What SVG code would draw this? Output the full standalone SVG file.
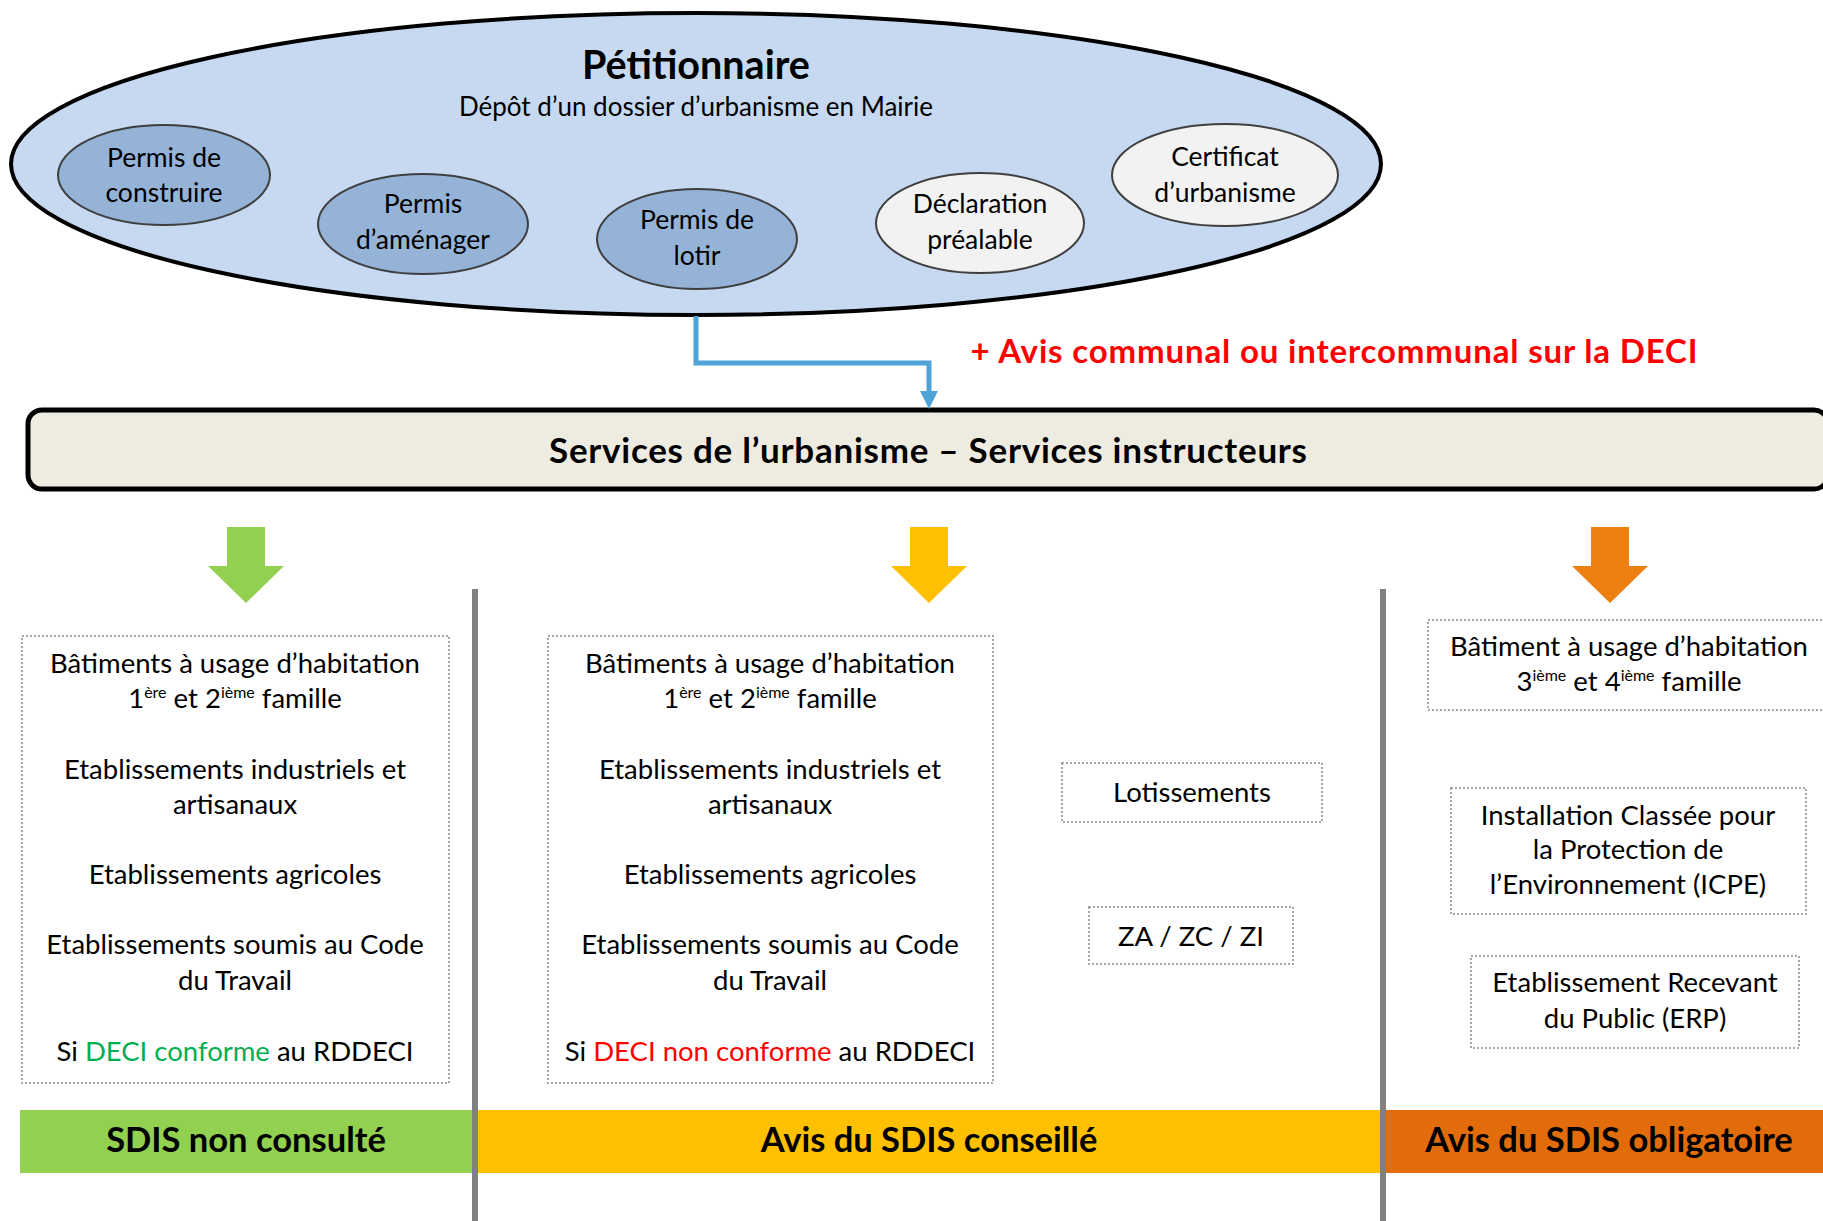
<svg xmlns="http://www.w3.org/2000/svg" width="1823" height="1221" viewBox="0 0 1823 1221">
<style>
text{font-family:Lato,"Liberation Sans",sans-serif;fill:#000;text-anchor:middle}
.b{font-weight:bold}
.sub{font-size:26px}
.el{font-size:26.5px}
.bx{font-size:27.5px}
.sup{font-size:16px}
.bar{font-size:34.5px;font-weight:bold}
.sm{fill:#95B3D7;stroke:#3F3F3F;stroke-width:2}
.sw{fill:#F2F2F2;stroke:#3F3F3F;stroke-width:2}
.dot{fill:none;stroke:#A6A6A6;stroke-width:2;stroke-dasharray:2 2}
.vl{stroke:#808080;stroke-width:6}
</style>
<rect width="1823" height="1221" fill="#fff"/>

<g id="petitionnaire">
<ellipse cx="696" cy="164" rx="685" ry="151" fill="#C6D9F1" stroke="#000" stroke-width="4"/>
<text x="696" y="79" class="b" font-size="39.5">Pétitionnaire</text>
<text x="696" y="116" class="sub">Dépôt d’un dossier d’urbanisme en Mairie</text>
</g>
<g id="permis-construire">
<ellipse cx="164" cy="175" rx="106" ry="50" class="sm"/>
<text x="164" y="167" class="el">Permis de</text>
<text x="164" y="202" class="el">construire</text>
</g>
<g id="permis-amenager">
<ellipse cx="423" cy="224" rx="105" ry="50" class="sm"/>
<text x="423" y="213" class="el">Permis</text>
<text x="423" y="249" class="el">d’aménager</text>
</g>
<g id="permis-lotir">
<ellipse cx="697" cy="239" rx="100" ry="50" class="sm"/>
<text x="697" y="229" class="el">Permis de</text>
<text x="697" y="265" class="el">lotir</text>
</g>
<g id="declaration">
<ellipse cx="980" cy="223" rx="104" ry="50" class="sw"/>
<text x="980" y="213" class="el">Déclaration</text>
<text x="980" y="249" class="el">préalable</text>
</g>
<g id="certificat">
<ellipse cx="1225" cy="175" rx="113" ry="51" class="sw"/>
<text x="1225" y="166" class="el">Certificat</text>
<text x="1225" y="202" class="el">d’urbanisme</text>
</g>

<g id="avis-communal">
<text x="1334" y="363" class="b" font-size="33" textLength="727" style="fill:#FF0000">+ Avis communal ou intercommunal sur la DECI</text>
</g>

<g id="services">
<rect x="28" y="410" width="1800" height="79" rx="14" fill="#EEECE1" stroke="#000" stroke-width="5"/>
<text x="928" y="463" class="b" font-size="35" textLength="758">Services de l’urbanisme – Services instructeurs</text>
</g>

<g id="connectors">
<path d="M696,316 V363 H929 V393" fill="none" stroke="#4FA3D9" stroke-width="5"/>
<polygon points="920,391 938,391 929,409" fill="#4FA3D9"/>
<polygon points="227,527 265,527 265,566 284,566 246,603 208,566 227,566" fill="#92D050"/>
<polygon points="910,527 948,527 948,566 967,566 929,603 891,566 910,566" fill="#FFC000"/>
<polygon points="1591,527 1629,527 1629,566 1648,566 1610,603 1572,566 1591,566" fill="#EE7F11"/>
</g>

<g id="bar-green">
<rect x="20" y="1110" width="455" height="63" fill="#92D050"/>
<text x="246" y="1152" class="bar">SDIS non consulté</text>
</g>
<g id="bar-yellow">
<rect x="475" y="1110" width="908" height="63" fill="#FFC000"/>
<text x="929" y="1152" class="bar">Avis du SDIS conseillé</text>
</g>
<g id="bar-orange">
<rect x="1383" y="1110" width="440" height="63" fill="#E36C0A"/>
<text x="1609" y="1152" class="bar">Avis du SDIS obligatoire</text>
</g>

<g id="separators">
<line x1="475" y1="589" x2="475" y2="1221" class="vl"/>
<line x1="1383" y1="589" x2="1383" y2="1221" class="vl"/>
</g>

<g id="box-non-consulte">
<rect x="22" y="636" width="427" height="447" class="dot"/>
<text x="235" y="673" class="bx">Bâtiments à usage d’habitation</text>
<text x="235" y="708" class="bx">1<tspan class="sup" dy="-10">ère</tspan><tspan dy="10"> et 2</tspan><tspan class="sup" dy="-10">ième</tspan><tspan dy="10"> famille</tspan></text>
<text x="235" y="779" class="bx">Etablissements industriels et</text>
<text x="235" y="814" class="bx">artisanaux</text>
<text x="235" y="884" class="bx">Etablissements agricoles</text>
<text x="235" y="954" class="bx">Etablissements soumis au Code</text>
<text x="235" y="990" class="bx">du Travail</text>
<text x="235" y="1061" class="bx">Si <tspan style="fill:#00B050">DECI conforme</tspan> au RDDECI</text>
</g>

<g id="box-conseille">
<rect x="548" y="636" width="445" height="447" class="dot"/>
<text x="770" y="673" class="bx">Bâtiments à usage d’habitation</text>
<text x="770" y="708" class="bx">1<tspan class="sup" dy="-10">ère</tspan><tspan dy="10"> et 2</tspan><tspan class="sup" dy="-10">ième</tspan><tspan dy="10"> famille</tspan></text>
<text x="770" y="779" class="bx">Etablissements industriels et</text>
<text x="770" y="814" class="bx">artisanaux</text>
<text x="770" y="884" class="bx">Etablissements agricoles</text>
<text x="770" y="954" class="bx">Etablissements soumis au Code</text>
<text x="770" y="990" class="bx">du Travail</text>
<text x="770" y="1061" class="bx">Si <tspan style="fill:#FF0000">DECI non conforme</tspan> au RDDECI</text>
</g>

<g id="box-lotissements">
<rect x="1062" y="763" width="260" height="59" class="dot"/>
<text x="1192" y="802" class="bx">Lotissements</text>
</g>
<g id="box-zones">
<rect x="1089" y="907" width="204" height="57" class="dot"/>
<text x="1191" y="946" class="bx">ZA / ZC / ZI</text>
</g>

<g id="box-habitation-34">
<rect x="1428" y="620" width="400" height="90" class="dot"/>
<text x="1629" y="656" class="bx">Bâtiment à usage d’habitation</text>
<text x="1629" y="691" class="bx">3<tspan class="sup" dy="-10">ième</tspan><tspan dy="10">  et 4</tspan><tspan class="sup" dy="-10">ième</tspan><tspan dy="10"> famille</tspan></text>
</g>
<g id="box-icpe">
<rect x="1451" y="788" width="355" height="126" class="dot"/>
<text x="1628" y="825" class="bx">Installation Classée pour</text>
<text x="1628" y="859" class="bx">la Protection de</text>
<text x="1628" y="894" class="bx">l’Environnement (ICPE)</text>
</g>
<g id="box-erp">
<rect x="1471" y="956" width="328" height="92" class="dot"/>
<text x="1635" y="992" class="bx">Etablissement Recevant</text>
<text x="1635" y="1028" class="bx">du Public (ERP)</text>
</g>
</svg>
